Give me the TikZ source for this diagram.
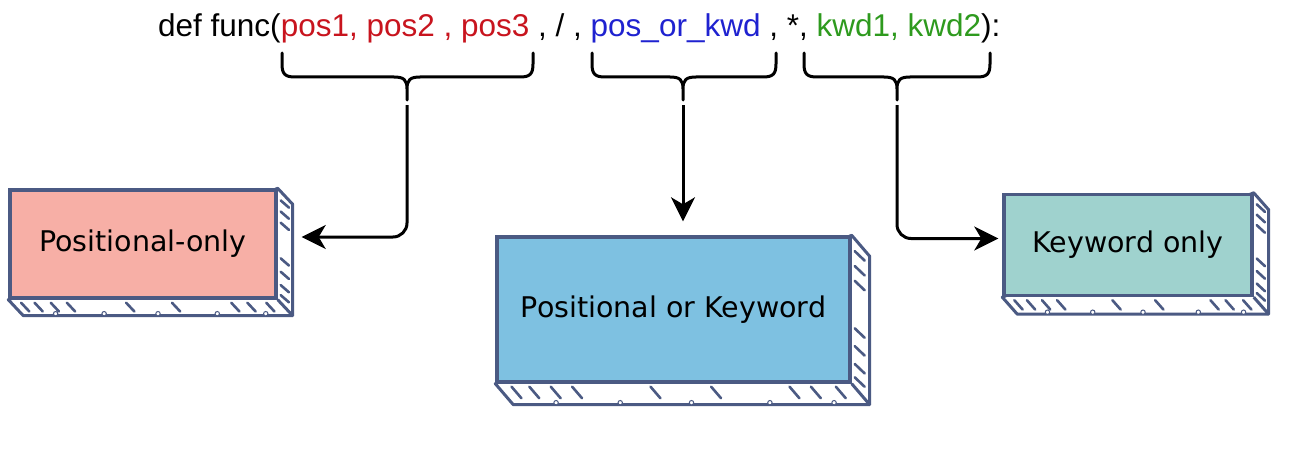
\documentclass[tikz,border=0pt]{standalone}
\usepackage{fontspec}
\setmainfont{Liberation Sans}
\newfontfamily\boxfont{DejaVu Sans}
\usetikzlibrary{calc,arrows.meta}
\definecolor{pinkf}{HTML}{F7AFA6}
\definecolor{bluef}{HTML}{7EC1E1}
\definecolor{tealf}{HTML}{9FD2CE}
\definecolor{edgec}{HTML}{4B5A83}
\definecolor{redt}{HTML}{C8141E}
\definecolor{bluet}{HTML}{1F22D0}
\definecolor{greent}{HTML}{2E9A1E}
\newcommand\sidefaces[3]{%
  \filldraw[face] (#1.north east) -- ++(#2,#3) |- ($(#1.south west)+(#2,#3)$) -- (#1.south west) -- cycle;
  \draw[face] (#1.south east) -- ++(#2,#3);
  \foreach \t in {0.1,0.2,0.3,0.62,0.74,0.86,0.95}
    \draw[hatchline] ($(#1.north east)!\t!(#1.south east)+(3,1)$) -- ++(0.55*#2,0.45*#3);
  \foreach \t in {0.04,0.09,0.15,0.21,0.43,0.6,0.82,0.88,0.95}
    \draw[hatchline] ($(#1.south west)!\t!(#1.south east)+(2,3)$) -- ++(0.55*#2,0.55*#3);
  \foreach \t in {0.12,0.3,0.5,0.72,0.9}
    \draw[edgec,line width=1pt,fill=white] ($(#1.south west)!\t!(#1.south east)+(#2,#3-2)$) circle (2.2);
}
\newcommand\bracepath[3]{%
  (#1,53) -- (#1,64) .. controls (#1,74) and (#1+3,77) .. (#1+13,77) -- (#3-13,77)
  .. controls (#3-3,77) and (#3,80) .. (#3,89) -- (#3,100)
  (#3,89) .. controls (#3,80) and (#3+3,77) .. (#3+13,77) -- (#2-13,77)
  .. controls (#2-3,77) and (#2,74) .. (#2,64) -- (#2,53)}
\begin{document}
\begin{tikzpicture}[x=1pt,y=-1pt,
  cube/.style={draw=edgec,line width=3.4pt,inner sep=0pt,font=\boxfont\fontsize{28.5}{32}\selectfont},
  face/.style={draw=edgec,fill=white,line width=3pt,line join=round},
  hatchline/.style={draw=edgec,line width=2.6pt,line cap=round},
  brace/.style={draw=black,line width=3pt,line cap=round},
  arr/.style={draw=black,line width=3pt,rounded corners=14pt,-{Stealth[length=24pt,width=24pt,inset=7pt]}}]
\useasboundingbox (0,0) rectangle (1307,452);
\node[anchor=base west,inner sep=0pt,font=\fontsize{31.5}{38}\selectfont] (code) at (158,37)
  {def func(\textcolor{redt}{pos1, pos2 , pos3} , / , \textcolor{bluet}{pos\_or\_kwd} , *, \textcolor{greent}{kwd1, kwd2}):};
\node[cube,fill=pinkf,minimum width=266pt,minimum height=108pt] (b1) at (143,244) {Positional-only};
\node[cube,fill=bluef,minimum width=353pt,minimum height=145pt] (b2) at (673.5,309.5) {Positional or Keyword};
\node[cube,fill=tealf,minimum width=248pt,minimum height=101pt] (b3) at (1128,245) {Keyword only};
\sidefaces{b1}{15}{16}
\sidefaces{b2}{18}{21}
\sidefaces{b3}{15}{17}
\node[cube,fill=pinkf,minimum width=266pt,minimum height=108pt] at (b1) {Positional-only};
\node[cube,fill=bluef,minimum width=353pt,minimum height=145pt] at (b2) {Positional or Keyword};
\node[cube,fill=tealf,minimum width=248pt,minimum height=101pt] at (b3) {Keyword only};
\draw[brace] \bracepath{282}{533}{407};
\draw[brace] \bracepath{592}{776}{683};
\draw[brace] \bracepath{804}{990}{897};
\coordinate (t1) at (407,105);
\coordinate (t2) at (683,105);
\coordinate (t3) at (897,105);
\draw[arr] (t1) |- ([xshift=24pt,yshift=7pt]b1.east);
\draw[arr] (t2) -- ([yshift=14pt]b2.north -| t2);
\draw[arr] (t3) |- ([xshift=-4pt,yshift=6.5pt]b3.west);
\end{tikzpicture}
\end{document}
